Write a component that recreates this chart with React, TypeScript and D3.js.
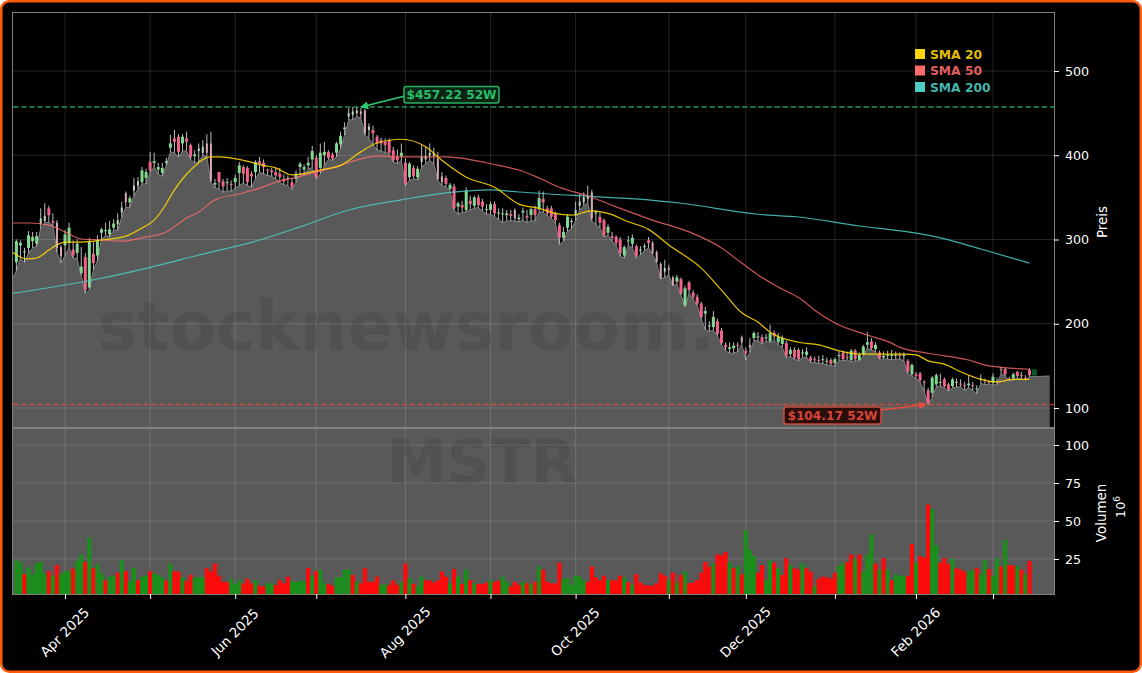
import { useEffect, useRef } from 'react';
import * as d3 from 'd3';

const width = 1142;
const height = 673;

const opens = [
  273, 293, 285, 290, 298, 295, 318, 322, 337, 322,
  320, 291, 293, 296, 288, 284, 260, 279, 243, 283,
  281, 308, 310, 306, 314, 318, 332, 355, 344, 358,
  364, 368, 373, 392, 391, 383, 379, 391, 409, 420,
  422, 414, 420, 412, 399, 405, 403, 414, 414, 365,
  380, 369, 367, 366, 368, 379, 386, 385, 378, 380,
  393, 391, 383, 382, 380, 378, 372, 372, 368, 372,
  386, 383, 388, 395, 397, 385, 400, 404, 401, 403,
  413, 431, 446, 448, 450, 452, 453, 430, 430, 422,
  418, 416, 418, 406, 398, 399, 391, 374, 385, 374,
  392, 395, 400, 403, 396, 375, 373, 360, 363, 339,
  341, 335, 346, 340, 350, 345, 335, 335, 342, 331,
  330, 329, 330, 335, 324, 332, 328, 329, 336, 336,
  348, 337, 337, 331, 317, 302, 314, 321, 328, 340,
  344, 348, 356, 331, 327, 323, 308, 304, 303, 300,
  281, 298, 295, 292, 287, 291, 299, 296, 285, 271,
  262, 266, 255, 250, 253, 222, 249, 237, 232, 224,
  212, 197, 196, 203, 192, 175, 170, 171, 175, 184,
  168, 175, 183, 184, 184, 183, 179, 189, 178, 176,
  177, 164, 169, 169, 165, 163, 160, 158, 157, 157,
  155, 157, 153, 162, 166, 161, 157, 168, 157, 164,
  175, 179, 170, 166, 160, 162, 162, 162, 163, 162,
  156, 140, 140, 141, 131, 121, 118, 128, 130, 134,
  128, 126, 130, 129, 127, 127, 127, 122, 134, 133,
  131, 130, 132, 146, 146, 135, 135, 143, 139, 136,
  145,
];
const highs = [
  300, 299, 290, 310, 309, 309, 337, 343, 340, 331,
  323, 293, 311, 320, 299, 300, 291, 284, 302, 297,
  305, 314, 320, 322, 324, 331, 345, 357, 352, 373,
  374, 386, 384, 404, 403, 391, 391, 397, 424, 430,
  425, 425, 428, 414, 406, 414, 418, 425, 428, 372,
  380, 372, 373, 370, 377, 392, 388, 387, 381, 394,
  398, 395, 384, 385, 385, 385, 377, 376, 373, 382,
  392, 389, 398, 411, 400, 414, 416, 406, 403, 416,
  428, 439, 456, 457.22, 457, 456, 455, 438, 435, 424,
  421, 420, 420, 410, 407, 414, 396, 392, 388, 387,
  412, 410, 414, 409, 404, 380, 376, 367, 366, 345,
  346, 362, 352, 352, 353, 348, 342, 345, 345, 337,
  337, 335, 335, 337, 330, 338, 335, 338, 340, 358,
  357, 340, 340, 333, 320, 315, 330, 325, 345, 354,
  356, 364, 359, 335, 332, 325, 318, 309, 305, 303,
  293, 304, 306, 294, 292, 295, 303, 298, 287, 273,
  276, 270, 257, 258, 255, 245, 251, 240, 235, 226,
  220, 203, 215, 206, 195, 178, 178, 178, 178, 186,
  172, 183, 191, 190, 187, 188, 199, 192, 189, 186,
  180, 172, 172, 171, 170, 172, 162, 161, 162, 163,
  160, 159, 160, 168, 168, 167, 170, 170, 166, 175,
  190, 183, 178, 168, 167, 168, 169, 167, 166, 166,
  158, 153, 143, 143, 133, 124, 138, 141, 141, 136,
  130, 136, 135, 134, 131, 139, 131, 127, 140, 135,
  133, 141, 136, 149, 148, 137, 142, 144, 143, 139,
  147,
];
const lows = [
  263, 278, 273, 284, 290, 292, 313, 320, 320, 317,
  285, 272, 281, 290, 278, 277, 258, 236, 241, 264,
  275, 300, 305, 303, 311, 311, 327, 338, 338, 352,
  360, 366, 366, 380, 386, 378, 375, 388, 404, 403,
  398, 405, 405, 395, 391, 392, 400, 398, 368, 361,
  360, 356, 358, 357, 361, 364, 367, 364, 362, 372,
  380, 378, 376, 375, 372, 368, 365, 364, 359, 368,
  378, 377, 384, 385, 372, 378, 388, 395, 394, 398,
  408, 424, 442, 442, 446, 444, 424, 420, 413, 406,
  405, 403, 402, 392, 390, 394, 364, 370, 372, 371,
  386, 390, 394, 390, 370, 364, 362, 358, 335, 330,
  332, 333, 335, 337, 338, 334, 330, 330, 327, 324,
  320, 322, 322, 322, 321, 323, 320, 322, 322, 333,
  332, 328, 325, 320, 294, 298, 310, 313, 322, 335,
  340, 344, 322, 318, 314, 303, 305, 298, 293, 280,
  278, 293, 290, 278, 282, 287, 290, 282, 272, 253,
  255, 258, 245, 247, 234, 220, 236, 229, 222, 206,
  193, 191, 192, 186, 175, 168, 165, 165, 167, 176,
  157, 166, 180, 180, 176, 179, 178, 180, 175, 172,
  160, 161, 158, 156, 160, 160, 154, 154, 153, 153,
  151, 150, 150, 156, 156, 157, 155, 156, 156, 162,
  171, 169, 167, 158, 158, 158, 157, 158, 158, 156,
  141, 138, 135, 131, 120, 104.17, 113, 125, 126, 124,
  120, 124, 125, 125, 121, 124, 121, 117, 129, 128,
  128, 127, 128, 141, 138, 132, 133, 136, 134, 133,
  137,
];
const closes = [
  298, 296, 286, 305, 303, 304, 325, 328, 329, 320,
  290, 280, 306, 314, 281, 295, 268, 240, 297, 272,
  299, 312, 311, 312, 319, 323, 338, 344, 349, 364,
  369, 382, 380, 382, 393, 386, 385, 393, 414, 416,
  404, 422, 416, 398, 401, 408, 410, 403, 370, 367,
  368, 363, 368, 365, 373, 388, 378, 368, 375, 392,
  390, 386, 382, 380, 376, 374, 369, 373, 362, 378,
  390, 386, 391, 405, 374, 403, 404, 397, 396, 414,
  423, 433, 450, 452, 453, 449, 426, 434, 426, 414,
  414, 412, 403, 394, 394, 403, 366, 390, 375, 384,
  398, 399, 403, 399, 372, 368, 366, 365, 337, 343,
  338, 358, 342, 350, 341, 339, 336, 342, 331, 332,
  331, 331, 328, 325, 326, 334, 326, 336, 329, 349,
  344, 331, 327, 323, 302, 309, 327, 322, 335, 345,
  350, 352, 325, 332, 320, 305, 315, 302, 296, 284,
  291, 299, 302, 281, 288, 292, 296, 284, 274, 254,
  266, 264, 246, 255, 236, 242, 240, 232, 224, 208,
  215, 198, 208, 188, 177, 172, 172, 174, 174, 178,
  165, 172, 189, 185, 178, 184, 189, 185, 184, 183,
  162, 169, 160, 158, 166, 167, 156, 157, 156, 158,
  156, 152, 158, 163, 158, 160, 168, 158, 163, 173,
  178, 171, 175, 159, 162, 163, 163, 163, 162, 163,
  143, 151, 138, 133, 130, 106, 136, 139, 131, 126,
  122, 134, 131, 128, 126, 129, 126, 123, 135, 132,
  130, 137, 131, 145, 140, 134, 140, 138, 138, 135,
  139,
];

// volume in millions and its bar colour (G/R), same sessions
const volumes = [
  24, 23, 15, 19.5, 15, 22, 23, 15.6, 17, 14,
  21, 15, 17, 17, 18.7, 24, 28, 23, 39, 19,
  21.5, 15.6, 11, 13.4, 14, 16, 24, 17, 10.3, 19,
  11, 13.4, 14, 17, 15.6, 14.5, 13, 10.8, 22, 17,
  16.7, 13, 10.5, 14.5, 13, 13, 13, 19, 16.7, 22,
  14, 10, 10, 12, 8.6, 11, 9, 12, 9, 11,
  7.5, 7, 9, 9, 8, 11, 9, 13.4, 10, 10,
  10.5, 10.5, 19, 14, 17, 18, 9, 8.6, 7.3, 13,
  13, 18, 18, 14.5, 10, 9, 19, 10, 10, 13.4,
  8, 8.6, 8, 10.8, 8, 10, 22, 12.3, 8.6, 7,
  13.4, 11, 10.8, 9.5, 11, 16.7, 13.4, 9, 18.4, 13.4,
  8.6, 18, 11, 9, 8.6, 8.6, 9.5, 11, 10, 10.8,
  13.4, 10, 7, 10, 8, 10, 9, 8.6, 10, 20,
  18, 10, 9, 9, 22.6, 12.3, 12.3, 8, 14, 13.4,
  11, 10, 20, 13, 11, 14, 11, 11, 11, 14,
  13, 9.7, 8, 15, 9.5, 8, 7.5, 7.5, 9, 15.6,
  14, 11, 16, 9.5, 14.5, 17, 9, 9.5, 11, 16,
  23, 20, 22, 28, 27.6, 29.6, 23, 19, 20.4, 15,
  43.6, 31, 27, 16, 21, 11, 24, 22.6, 19, 14.5,
  25.5, 21, 19, 18, 22, 19, 16.7, 7, 12, 13.4,
  13, 12, 16, 20.4, 22.6, 23, 28, 25, 28, 16.7,
  27.6, 41, 22, 18, 25.5, 18, 11, 15, 14, 14,
  14, 35, 23, 27, 26, 60.8, 57.7, 34, 22.6, 25.5,
  21.7, 25, 19, 18, 16.7, 16.7, 17.8, 19, 15, 24,
  18.4, 14, 25.5, 20, 37.5, 21, 20.6, 20.4, 18, 15,
  23.7,
];
const volumeSides =
  'GGRGGGGGRG' + 'RGGGRGGRGR' + 'GGRGGRGRGG' + 'RGGRGGGRGR' + 'RGRRGGGRRR' +
  'RRRGGGRRRG' + 'RRGGRRRRGG' + 'GGRGRGGRRG' + 'GGGRGRRRRR' + 'GGRRRGRGRG' +
  'GRRRRRRGRG' + 'RGRGRRRGRR' + 'GGRRRGRGRG' + 'RRRRRGGGGG' + 'GRRRRRGRRR' +
  'GRGRRRRRRR' + 'RGRGRGRRRR' + 'RRGRRRGRGR' + 'GGGRRGGRGR' + 'RGRRGRRGRR' +
  'RRRGGRRGRG' + 'GGRGRGRGGG' + 'RRGRRRGGRR' + 'RGRRRGGRGG' + 'RGGRGRRGRG' + 'R';

// candles that look washed out in the original (tall thin bodies)
const paleCandles = [6, 7, 10, 11, 25, 26, 27, 29, 30, 45, 46, 47, 48, 82, 83, 84, 85, 86, 87, 100, 101, 102, 103, 104, 105, 123, 138, 139, 140, 141, 142, 157, 158, 159, 160, 161, 162, 179, 181];

// moving averages, [session, price]
const sma20: [number, number][] = [
  [-1, 285], [1, 279], [3, 277], [5, 278], [8, 287.5], [10, 293.5], [12, 297], [16, 297], [21, 299.4], [27, 304],
  [31, 313.7], [34, 323], [36, 335], [39, 359], [43, 382.5], [48, 398], [50, 398], [56, 394], [61, 388], [64, 385],
  [68, 376.6], [75, 382.5], [80, 388], [85, 404], [89, 414.5], [95, 419], [101, 410], [105, 394], [111, 374], [118, 362],
  [124, 342], [129, 337], [133, 331], [137, 329], [142, 334], [146, 331], [151, 321], [156, 312], [161, 293.5], [169, 266],
  [174, 240], [179, 213], [183, 202], [186, 190], [193, 178], [198, 175], [203, 168], [208, 164], [213, 164], [219, 164],
  [222, 163], [225, 156], [229, 152], [233, 143], [238, 134], [242, 131], [246, 134], [250, 134],
];
const sma50: [number, number][] = [
  [-1, 319.6], [3, 319.6], [8, 317], [12, 309], [16, 300.6], [21, 299.4], [26, 298], [31, 302], [37, 309], [42, 325.5],
  [45, 332.7], [49, 347], [55, 354], [60, 361], [65, 369.5], [70, 375], [80, 388], [85, 395.6], [89, 399], [95, 398],
  [102, 398], [106, 398], [113, 394], [119, 388], [124, 382.5], [129, 373], [134, 362], [141, 351.6], [149, 337], [157, 323],
  [166, 309], [174, 290], [179, 272], [183, 258], [188, 243.6], [194, 228], [197, 216], [202, 201], [210, 186.6], [216, 177],
  [218, 172], [225, 165], [235, 157], [240, 150], [250, 146],
];
const sma200: [number, number][] = [
  [-1, 236], [21, 254], [33, 267], [45, 281.6], [60, 299.4], [70, 315], [82, 335], [95, 347], [107, 356], [117, 359],
  [124, 356.4], [144, 350.5], [156, 347], [164, 343], [183, 330], [193, 326.7], [208, 316], [220, 309], [228, 302], [238, 288.7],
  [250, 272],
];

// first session of each month
const monthStarts = [12, 33, 54, 74, 96, 117, 138, 161, 180, 202, 222, 241];
const monthLabels = ['Apr 2025', '', 'Jun 2025', '', 'Aug 2025', '', 'Oct 2025', '', 'Dec 2025', '', 'Feb 2026', ''];

const priceTicks = [100, 200, 300, 400, 500];
const volumeTicks = [25, 50, 75, 100];

const high52 = 457.22;
const low52 = 104.17;

const legendItems = [
  { label: 'SMA 20', color: '#ffd700' },
  { label: 'SMA 50', color: '#ff6b6b' },
  { label: 'SMA 200', color: '#4ecdc4' },
];

const plotLeft = 13;
const plotRight = 1054;
const priceTop = 13;
const priceBottom = 428;
const volumeBottom = 594;
const fontFamily = '"DejaVu Sans", sans-serif';

export default function App() {
  const svgRef = useRef<SVGSVGElement>(null);

  useEffect(() => {
    if (!svgRef.current) return;
    const svg = d3.select(svgRef.current);
    svg.selectAll('*').remove();

    const x = d3.scaleLinear().domain([0, 241]).range([16.4, 993]);
    const y = d3.scaleLinear().domain([100, 500]).range([408, 71]);
    const yVol = d3.scaleLinear().domain([25, 100]).range([559, 445]);
    const step = x(1) - x(0);

    const defs = svg.append('defs');
    defs.append('clipPath').attr('id', 'price-clip').append('rect')
      .attr('x', plotLeft).attr('y', priceTop)
      .attr('width', plotRight - plotLeft).attr('height', priceBottom - priceTop);
    defs.append('clipPath').attr('id', 'vol-clip').append('rect')
      .attr('x', plotLeft).attr('y', priceBottom)
      .attr('width', plotRight - plotLeft).attr('height', volumeBottom - priceBottom);
    [['up-arrow', '#2ecc71'], ['down-arrow', '#e74c3c']].forEach(([id, c]) => {
      defs.append('marker').attr('id', id)
        .attr('viewBox', '0 0 10 10').attr('refX', 9).attr('refY', 5)
        .attr('markerWidth', 11).attr('markerHeight', 8).attr('markerUnits', 'userSpaceOnUse')
        .attr('orient', 'auto')
        .append('path').attr('d', 'M0,0L10,5L0,10Z').attr('fill', c);
    });

    // figure background and orange frame
    svg.append('rect')
      .attr('x', 1.25).attr('y', 1.25)
      .attr('width', width - 2.5).attr('height', height - 2.5)
      .attr('rx', 8).attr('fill', '#000')
      .attr('stroke', '#ff5a0a').attr('stroke-width', 2.5);

    // volume panel background
    svg.append('rect')
      .attr('x', plotLeft).attr('y', priceBottom)
      .attr('width', plotRight - plotLeft).attr('height', volumeBottom - priceBottom)
      .attr('fill', '#595959');

    // grey area under the lows, runs flat to the right past the last session
    const areaPoints: [number, number][] = [
      [-0.85, 255],
      ...lows.map((d, i) => [i, d] as [number, number]),
      [255, 138],
    ];
    const areaGroup = svg.append('g').attr('clip-path', 'url(#price-clip)');
    areaGroup.append('path')
      .attr('d', d3.area<[number, number]>()
        .x(d => x(d[0]))
        .y0(priceBottom)
        .y1(d => y(d[1]))(areaPoints))
      .attr('fill', '#595959');
    areaGroup.append('path')
      .attr('d', d3.line<[number, number]>()
        .x(d => x(d[0]))
        .y(d => y(d[1]))(areaPoints))
      .attr('fill', 'none').attr('stroke', '#808080').attr('stroke-width', 1);

    // grid
    const grid = svg.append('g').attr('stroke', '#fff').attr('stroke-opacity', 0.14).attr('stroke-width', 1);
    grid.selectAll('line.vp').data(monthStarts).enter().append('line')
      .attr('x1', d => x(d)).attr('x2', d => x(d))
      .attr('y1', priceTop).attr('y2', volumeBottom);
    grid.selectAll('line.hp').data(priceTicks).enter().append('line')
      .attr('x1', plotLeft).attr('x2', plotRight)
      .attr('y1', d => y(d)).attr('y2', d => y(d));
    grid.selectAll('line.hv').data(volumeTicks).enter().append('line')
      .attr('x1', plotLeft).attr('x2', plotRight)
      .attr('y1', d => yVol(d)).attr('y2', d => yVol(d));

    // watermarks
    svg.append('text')
      .attr('x', 484).attr('y', 350)
      .attr('text-anchor', 'middle')
      .attr('font-family', fontFamily).attr('font-weight', 'bold').attr('font-size', 67)
      .attr('fill', '#000').attr('fill-opacity', 0.09)
      .text('stocknewsroom.com');
    svg.append('text')
      .attr('x', 482).attr('y', 483)
      .attr('text-anchor', 'middle')
      .attr('font-family', fontFamily).attr('font-weight', 'bold').attr('font-size', 60)
      .attr('fill', '#000').attr('fill-opacity', 0.09)
      .text('MSTR');

    // volume bars
    const barWidth = step * 1.02;
    svg.append('g').attr('clip-path', 'url(#vol-clip)')
      .selectAll('rect').data(volumes).enter().append('rect')
      .attr('x', (_d, i) => x(i) - barWidth / 2)
      .attr('width', barWidth)
      .attr('y', d => yVol(d))
      .attr('height', d => volumeBottom - yVol(d))
      .attr('fill', (_d, i) => volumeSides[i] === 'G' ? '#1b8f1b' : '#ff0a0a');

    // 52 week lines
    const levels = svg.append('g').attr('stroke-width', 1.5).attr('stroke-dasharray', '5.5,2.6');
    levels.append('line')
      .attr('x1', plotLeft).attr('x2', plotRight)
      .attr('y1', y(high52)).attr('y2', y(high52))
      .attr('stroke', '#27ae60').attr('stroke-opacity', 0.85);
    levels.append('line')
      .attr('x1', plotLeft).attr('x2', plotRight)
      .attr('y1', y(low52)).attr('y2', y(low52))
      .attr('stroke', '#e74c3c').attr('stroke-opacity', 0.75);

    // candles
    const candles = svg.append('g').attr('clip-path', 'url(#price-clip)');
    const rows = d3.range(opens.length);
    candles.selectAll('line').data(rows).enter().append('line')
      .attr('x1', i => x(i)).attr('x2', i => x(i))
      .attr('y1', i => y(highs[i])).attr('y2', i => y(lows[i]))
      .attr('stroke', '#bdbdbd').attr('stroke-width', 1);
    const bodyColor = (i: number) => {
      const up = closes[i] >= opens[i];
      if (paleCandles.includes(i)) return up ? '#b9d8bd' : '#d8a9b4';
      return up ? '#82d992' : '#f0648c';
    };
    candles.selectAll('rect').data(rows).enter().append('rect')
      .attr('x', i => x(i) - (paleCandles.includes(i) ? 1 : 1.5))
      .attr('width', i => paleCandles.includes(i) ? 2 : 3)
      .attr('y', i => y(Math.max(opens[i], closes[i])))
      .attr('height', i => Math.max(1, Math.abs(y(opens[i]) - y(closes[i]))))
      .attr('fill', bodyColor);

    // small dark green block right after the last session
    candles.append('rect')
      .attr('x', x(opens.length - 0.4)).attr('width', step * 1.2)
      .attr('y', y(146)).attr('height', y(138.5) - y(146))
      .attr('fill', '#0b5a2a');

    // moving averages
    const smaLine = d3.line<[number, number]>()
      .x(d => x(d[0]))
      .y(d => y(d[1]))
      .curve(d3.curveMonotoneX);
    const smaGroup = svg.append('g').attr('clip-path', 'url(#price-clip)').attr('fill', 'none');
    smaGroup.append('path').attr('d', smaLine(sma200)).attr('stroke', '#4ecdc4').attr('stroke-opacity', 0.85).attr('stroke-width', 1.2);
    smaGroup.append('path').attr('d', smaLine(sma50)).attr('stroke', '#ff6b6b').attr('stroke-opacity', 0.8).attr('stroke-width', 1.2);
    smaGroup.append('path').attr('d', smaLine(sma20)).attr('stroke', '#ffd700').attr('stroke-opacity', 0.9).attr('stroke-width', 1.2);

    // panel borders
    const spines = svg.append('g').attr('fill', 'none').attr('stroke', '#808080');
    spines.append('rect')
      .attr('x', plotLeft - 0.5).attr('y', priceTop - 0.5)
      .attr('width', plotRight - plotLeft + 1).attr('height', volumeBottom - priceTop + 1);
    spines.append('line')
      .attr('x1', plotLeft).attr('x2', plotRight)
      .attr('y1', priceBottom).attr('y2', priceBottom)
      .attr('stroke-width', 2);

    // axes
    const styleAxis = (g: d3.Selection<SVGGElement, unknown, null, undefined>) => {
      g.select('.domain').remove();
      g.selectAll('line').attr('stroke', '#fff');
      g.selectAll('text').attr('fill', '#fff').attr('font-family', fontFamily).attr('font-size', 12.6);
    };
    svg.append('g')
      .attr('transform', `translate(${plotRight},0)`)
      .call(d3.axisRight(y).tickValues(priceTicks).tickSize(5).tickPadding(6))
      .call(styleAxis);
    svg.append('g')
      .attr('transform', `translate(${plotRight},0)`)
      .call(d3.axisRight(yVol).tickValues(volumeTicks).tickSize(5).tickPadding(6))
      .call(styleAxis);
    const xAxis = svg.append('g')
      .attr('transform', `translate(0,${volumeBottom})`)
      .call(d3.axisBottom(x).tickValues(monthStarts).tickSize(5)
        .tickFormat((_d, i) => monthLabels[i]))
      .call(styleAxis);
    xAxis.selectAll('text')
      .attr('text-anchor', 'middle')
      .attr('font-size', 13.6)
      .attr('dy', 0).attr('y', 0)
      .attr('dominant-baseline', 'central')
      .attr('transform', 'translate(-1,38) rotate(-45)');

    const sideLabel = (label: string, cx: number, cy: number) => {
      svg.append('text')
        .attr('transform', `translate(${cx},${cy}) rotate(-90)`)
        .attr('text-anchor', 'middle').attr('dominant-baseline', 'central')
        .attr('font-family', fontFamily).attr('font-size', 13.4).attr('fill', '#fff')
        .text(label);
    };
    sideLabel('Preis', 1102, 222);
    sideLabel('Volumen', 1101, 513);
    const offset = svg.append('text')
      .attr('transform', 'translate(1125,507) rotate(-90)')
      .attr('text-anchor', 'middle')
      .attr('font-family', fontFamily).attr('font-size', 12.6).attr('fill', '#fff');
    offset.append('tspan').text('10');
    offset.append('tspan').attr('font-size', 9).attr('dy', -5).text('6');

    // legend
    const legend = svg.append('g');
    legendItems.forEach((d, i) => {
      const ly = 54 + i * 16.5;
      legend.append('rect')
        .attr('x', 915).attr('y', ly - 5)
        .attr('width', 10).attr('height', 10)
        .attr('fill', d.color);
      legend.append('text')
        .attr('x', 930).attr('y', ly + 4.5)
        .attr('font-family', fontFamily).attr('font-weight', 'bold').attr('font-size', 12.3)
        .attr('fill', d.color).attr('fill-opacity', 0.9)
        .text(d.label);
    });

    // 52 week annotations
    const annotate = (
      label: string, color: string, bg: string, marker: string,
      boxX: number, boxY: number, boxW: number, boxH: number,
      fromX: number, fromY: number, toSession: number, toPrice: number,
    ) => {
      svg.append('line')
        .attr('x1', fromX).attr('y1', fromY)
        .attr('x2', x(toSession)).attr('y2', y(toPrice))
        .attr('stroke', color).attr('stroke-width', 1.6)
        .attr('marker-end', `url(#${marker})`);
      svg.append('rect')
        .attr('x', boxX).attr('y', boxY)
        .attr('width', boxW).attr('height', boxH)
        .attr('rx', 2.5)
        .attr('fill', bg).attr('stroke', color).attr('stroke-opacity', 0.85).attr('stroke-width', 1.5);
      svg.append('text')
        .attr('x', boxX + boxW / 2).attr('y', boxY + boxH / 2 + 4.3)
        .attr('text-anchor', 'middle')
        .attr('font-family', fontFamily).attr('font-weight', 'bold').attr('font-size', 12.2)
        .attr('fill', color).attr('fill-opacity', 0.92)
        .text(label);
    };
    annotate(`$${high52} 52W`, '#2ecc71', '#0a2415', 'up-arrow', 404, 86.5, 95, 16.5, 405, 96, 85, high52);
    annotate(`$${low52} 52W`, '#e74c3c', '#2a0f0d', 'down-arrow', 784, 407, 97, 17, 881, 410, 224.5, low52);
  }, []);

  return (
    <svg
      ref={svgRef}
      width={width}
      height={height}
      style={{ position: 'absolute', left: 0, top: 0, display: 'block' }}
    />
  );
}
